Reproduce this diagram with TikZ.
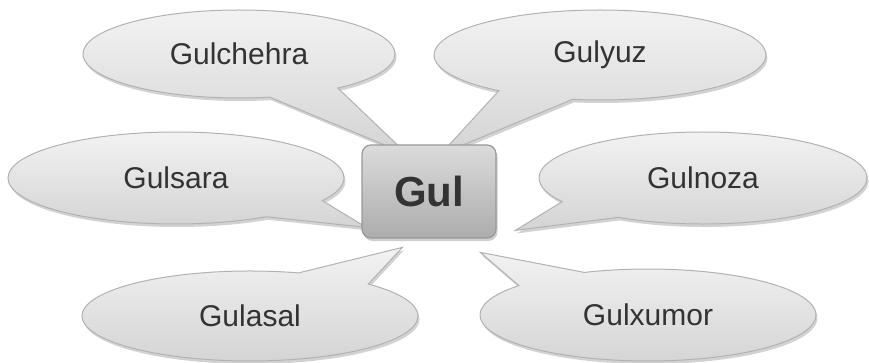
\documentclass[tikz,border=0pt]{standalone}
\usepackage{fontspec}
\setmainfont{Liberation Sans}
\usetikzlibrary{shapes.callouts,shadows,backgrounds,calc}

\begin{document}
\begin{tikzpicture}[x=1pt,y=-1pt]
\tikzset{bubble/.style={ellipse callout,callout pointer arc=28,inner sep=0pt,top color=gray!10,bottom color=gray!34,draw=gray!60,line width=1pt,text=black!80,font=\fontsize{30}{33}\selectfont,drop shadow={shadow xshift=1.5pt,shadow yshift=-3pt,fill=gray!70}}}
\tikzset{hub/.style={rectangle,rounded corners=9pt,minimum width=134pt,minimum height=93pt,top color=gray!28,bottom color=gray!65,draw=gray!80,line width=1.2pt,text=black!80,font=\fontsize{42}{46}\selectfont\bfseries,drop shadow={shadow xshift=1.5pt,shadow yshift=-3pt,fill=gray!75}}}

\useasboundingbox (0,0) rectangle (869,363);

\node[hub] (gul) at (429,191.5) {Gul};

\coordinate (tipa) at ($(gul.north west)+(46,10)$);
\coordinate (tipb) at ($(gul.north west)+(79,10)$);
\coordinate (tipc) at ($(gul.north west)+(5,83)$);
\coordinate (tipd) at ($(gul.north west)+(154,86)$);
\coordinate (tipe) at ($(gul.north west)+(41,103)$);
\coordinate (tipf) at ($(gul.north west)+(119,108)$);

\begin{scope}[on background layer]
\node[bubble,minimum width=312pt,minimum height=88pt,callout absolute pointer=(tipa)] (gulchehra) at (239,54) {Gulchehra};
\node[bubble,minimum width=332pt,minimum height=90pt,callout absolute pointer=(tipb)] (gulyuz) at (600,55) {Gulyuz};
\node[bubble,minimum width=336pt,minimum height=92pt,callout absolute pointer=(tipc)] (gulsara) at (176,178) {Gulsara};
\node[bubble,minimum width=328pt,minimum height=92pt,callout absolute pointer=(tipd)] (gulnoza) at (703,178) {Gulnoza};
\node[bubble,minimum width=336pt,minimum height=90pt,callout absolute pointer=(tipe)] (gulasal) at (250,316) {Gulasal};
\node[bubble,minimum width=336pt,minimum height=92pt,callout absolute pointer=(tipf)] (gulxumor) at (648,315) {Gulxumor};
\end{scope}
\end{tikzpicture}
\end{document}
